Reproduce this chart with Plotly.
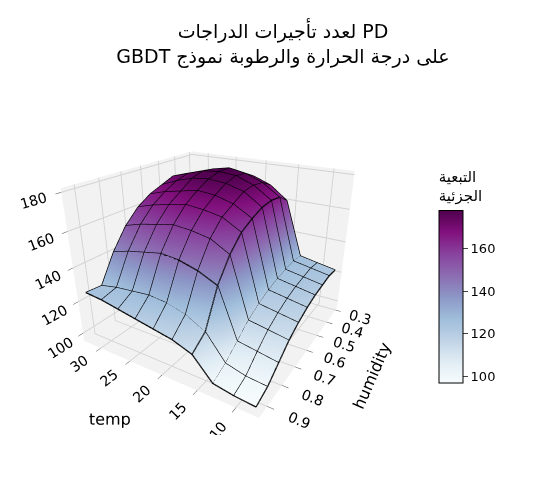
import plotly.graph_objects as go

# grid points
temp = [8.0, 10.7, 13.4, 16.1, 18.8, 21.5, 24.2, 26.9, 29.6, 32.3]
humidity = [0.30, 0.37, 0.44, 0.51, 0.58, 0.65, 0.72, 0.79, 0.86, 0.93]

# partial dependence, rows = humidity, columns = temp
pd_values = [
    [122, 124, 126, 160, 168, 172, 174, 172, 170, 168],
    [123, 125, 127, 165, 172, 176, 178, 176, 173, 170],
    [122, 124, 126, 166, 173, 177, 178, 177, 174, 171],
    [121, 123, 125, 165, 172, 175, 176, 175, 172, 168],
    [119, 121, 123, 162, 168, 171, 172, 170, 168, 165],
    [116, 118, 120, 158, 164, 166, 167, 165, 163, 160],
    [112, 114, 116, 150, 156, 158, 159, 157, 155, 152],
    [106, 108, 110, 138, 143, 146, 147, 145, 143, 140],
    [100, 101, 104, 118, 124, 127, 128, 127, 126, 124],
    [97, 98, 100, 112, 116, 118, 120, 122, 124, 125],
]

fig = go.Figure(go.Surface(
    x=temp, y=humidity, z=pd_values,
    colorscale="BuPu",
    lighting=dict(ambient=1.0, diffuse=0.1, specular=0.0),
    colorbar=dict(
        title=dict(text="التبعية<br>الجزئية", side="top", font=dict(size=15)),
        tickvals=[100, 120, 140, 160],
        len=0.56, thickness=24, x=0.78, y=0.53, yanchor="middle",
        outlinecolor="black", outlinewidth=1, ticks="outside",
    ),
))

# black mesh edges, like matplotlib's edgecolor
for i, h in enumerate(humidity):
    fig.add_trace(go.Scatter3d(x=temp, y=[h] * len(temp), z=pd_values[i], mode="lines",
                               line=dict(color="black", width=2.5), showlegend=False, hoverinfo="skip"))
for j, t in enumerate(temp):
    fig.add_trace(go.Scatter3d(x=[t] * len(humidity), y=humidity, z=[row[j] for row in pd_values],
                               mode="lines", line=dict(color="black", width=2.5),
                               showlegend=False, hoverinfo="skip"))

axis_style = dict(backgroundcolor="rgb(242,242,242)", gridcolor="rgb(210,210,210)",
                  showbackground=True, zeroline=False, ticks="outside")

fig.update_layout(
    width=550, height=500,
    title=dict(text="لعدد تأجيرات الدراجات PD<br>GBDT على درجة الحرارة والرطوبة نموذج",
               x=0.5, y=0.94, font=dict(size=19, color="black")),
    font=dict(family="DejaVu Sans", size=13, color="black"),
    paper_bgcolor="white",
    margin=dict(l=0, r=10, t=70, b=10),
    scene=dict(
        domain=dict(x=[0.0, 0.78], y=[0.15, 1.0]),
        xaxis=dict(title="temp", tickvals=[10, 15, 20, 25, 30], **axis_style),
        yaxis=dict(title="humidity", tickvals=[0.3, 0.4, 0.5, 0.6, 0.7, 0.8, 0.9], **axis_style),
        zaxis=dict(title="", tickvals=[100, 120, 140, 160, 180], range=[95, 182], **axis_style),
        camera=dict(eye=dict(x=-1.05, y=1.7, z=0.9)),
        aspectmode="manual", aspectratio=dict(x=1, y=1, z=0.8),
    ),
)

fig.write_html("out.html")
